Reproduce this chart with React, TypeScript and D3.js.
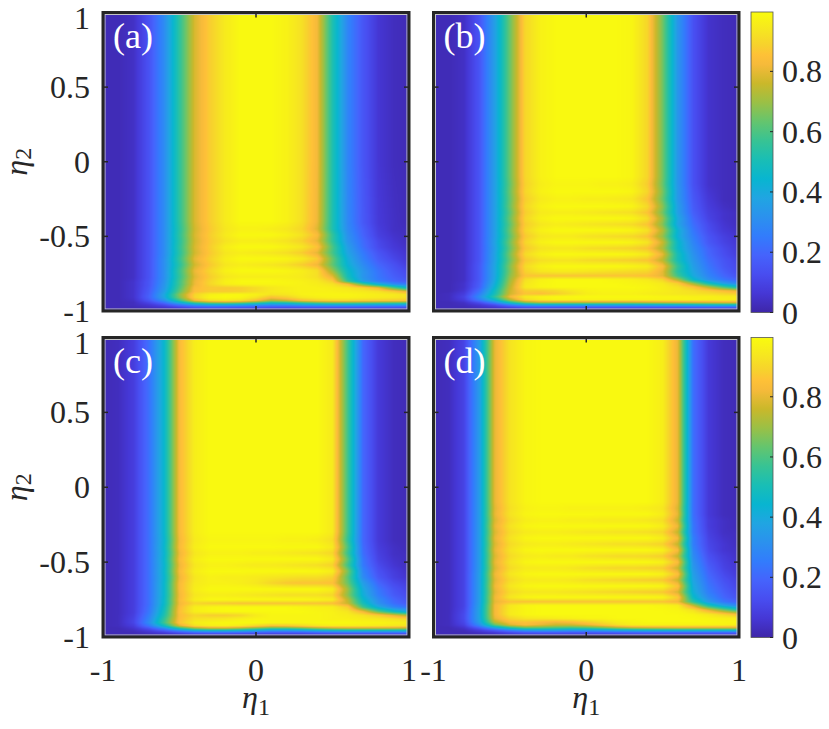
import React, { useMemo } from "react";
import * as d3 from "d3";

// ---------- DATA ----------
// eta1 sample columns (shared by all panels)
const ETA1 = [-1, -0.9, -0.8, -0.7, -0.6, -0.5, -0.4, -0.3, -0.2, -0.1, 0, 0.1, 0.2, 0.3, 0.4, 0.5, 0.6, 0.7, 0.8, 0.9, 1];

// Panel (a): eta2 rows and values (percent)
const A_ETA2 = [1, 0, -0.4, -0.45, -0.49, -0.53, -0.57, -0.61, -0.65, -0.69, -0.73, -0.77, -0.8, -0.82, -0.845, -0.87, -0.89, -0.91, -0.93, -0.945, -0.96, -0.975, -0.99, -1];
const A_VALUES = [
  [2,2,4,14,30,55,78,88,95,99,99,99,97,92,82,52,28,15,6,3,2],
  [2,2,4,14,30,55,78,88,95,99,99,99,97,92,82,52,28,15,6,3,2],
  [2,2,4,14,30,55,78,88,95,99,99,99,97,92,81,52,29,16,7,4,2],
  [2,2,4,14,30,54,77,87,94,97,97,96,94,90,79,52,30,18,8,4,3],
  [2,2,4,14,30,55,78,88,95,99,99,99,97,93,84,56,32,19,9,5,3],
  [2,2,4,14,30,54,77,87,93,96,96,95,93,89,80,56,33,21,11,6,3],
  [2,2,4,14,30,55,78,88,96,99,99,99,97,94,86,60,36,22,12,7,4],
  [2,2,4,14,30,54,77,87,94,96,95,94,92,88,80,59,38,25,15,9,5],
  [2,2,4,14,31,56,80,89,96,99,99,99,98,95,88,64,41,27,17,11,6],
  [2,2,4,14,31,54,77,87,94,96,95,94,92,88,82,63,43,30,20,14,8],
  [2,2,4,14,31,57,81,90,97,99,99,99,98,96,92,70,47,33,23,16,11],
  [2,2,4,14,31,56,79,88,94,96,96,96,96,95,92,80,50,33,24,18,13],
  [2,2,5,15,32,58,81,90,97,99,99,99,98,97,95,88,56,36,26,20,16],
  [2,2,5,15,33,58,81,90,96,98,98,98,98,97,96,93,84,60,42,30,24],
  [2,2,5,16,34,60,84,87,87,88,91,94,96,97,97,96,94,90,82,62,46],
  [2,2,5,17,36,63,85,88,88,89,92,95,96,97,97,97,96,95,93,88,80],
  [2,2,5,18,39,68,90,97,99,99,97,93,94,97,98,98,98,97,96,95,93],
  [2,2,5,18,38,66,90,98,99,98,93,84,88,94,96,97,97,96,95,94,92],
  [2,2,4,15,31,56,82,92,94,92,84,72,76,84,88,90,90,89,88,87,86],
  [2,2,3,10,21,40,58,66,68,65,58,50,52,58,62,64,64,63,62,61,60],
  [2,2,3,6,12,22,32,37,37,35,32,29,30,34,36,37,37,36,35,34,33],
  [2,2,2,4,6,10,15,17,17,16,15,14,14,15,16,16,16,16,15,15,14],
  [2,2,2,2,3,4,5,6,6,5,5,5,5,5,5,5,5,5,5,5,5],
  [2,2,2,2,2,2,2,2,2,2,2,2,2,2,2,2,2,2,2,2,2],
];

// Panel (b)
const B_ETA2 = [1, -0.1, -0.15, -0.2, -0.25, -0.3, -0.34, -0.38, -0.42, -0.46, -0.5, -0.54, -0.58, -0.62, -0.66, -0.7, -0.735, -0.765, -0.79, -0.815, -0.84, -0.865, -0.885, -0.905, -0.925, -0.945, -0.96, -0.975, -0.99, -1];
const B_VALUES = [
  [2,2,4,15,36,64,90,97,99,99,99,99,99,98,90,65,33,14,5,3,2],
  [2,2,4,15,36,64,90,97,99,99,99,99,99,98,90,65,33,14,5,3,2],
  [2,2,4,15,36,63,89,96,98,98,98,97,97,96,88,64,33,14,5,3,2],
  [2,2,4,15,36,64,90,97,99,99,99,99,99,98,90,66,34,15,6,3,2],
  [2,2,4,15,36,63,88,95,97,97,96,96,95,94,86,64,34,16,7,3,2],
  [2,2,4,15,36,64,90,97,99,99,99,99,99,98,91,68,36,17,8,4,2],
  [2,2,4,15,36,62,88,95,96,96,95,94,93,92,86,65,36,18,9,5,3],
  [2,2,4,15,36,64,90,97,99,99,99,99,99,98,92,70,39,20,10,5,3],
  [2,2,4,15,36,62,88,94,96,95,94,93,92,91,86,67,38,22,12,6,3],
  [2,2,4,15,36,64,90,97,99,99,99,99,99,98,93,73,43,24,13,7,4],
  [2,2,4,15,36,62,87,94,95,95,93,92,91,90,86,69,42,26,15,9,5],
  [2,2,4,15,37,65,90,97,99,99,99,99,99,98,94,76,46,28,16,10,6],
  [2,2,4,15,36,63,87,93,94,94,92,91,90,89,86,72,46,30,19,12,7],
  [2,2,4,15,37,66,91,97,99,99,99,99,99,98,95,80,50,32,20,13,8],
  [2,2,4,15,37,64,87,92,93,93,91,90,89,88,86,74,50,34,22,15,10],
  [2,2,4,16,38,67,91,97,99,99,99,99,99,98,96,84,56,36,24,16,11],
  [2,2,4,16,38,66,89,94,95,95,94,93,92,91,90,80,54,38,26,18,12],
  [2,2,4,16,38,68,86,86,86,86,86,86,86,86,85,80,58,40,28,20,14],
  [2,2,4,16,39,70,92,97,99,99,99,99,98,97,95,90,72,46,32,24,18],
  [2,2,5,17,41,72,94,98,99,99,99,99,99,98,97,95,88,70,50,36,28],
  [2,2,5,18,44,74,95,98,99,99,99,99,99,99,98,96,93,86,74,60,48],
  [2,2,6,22,48,76,88,88,90,94,97,98,98,98,97,96,94,92,88,84,80],
  [2,3,8,26,50,77,86,85,88,92,96,97,97,97,96,95,94,93,92,90,88],
  [2,3,10,30,55,82,95,98,99,99,99,99,99,99,99,98,98,97,97,96,96],
  [2,3,8,25,45,72,90,95,97,97,97,97,97,97,97,97,97,97,96,96,95],
  [2,2,4,12,26,48,64,70,70,70,70,70,70,70,71,72,73,74,75,76,76],
  [2,2,3,6,12,24,34,38,38,38,38,38,38,38,39,40,41,42,44,45,45],
  [2,2,2,4,6,10,14,15,15,15,15,15,15,15,15,16,16,17,18,18,18],
  [2,2,2,2,3,4,5,5,5,5,5,5,5,5,5,5,5,5,5,5,5],
  [2,2,2,2,2,2,2,2,2,2,2,2,2,2,2,2,2,2,2,2,2],
];

// Panel (c)
const C_ETA2 = [1, -0.3, -0.35, -0.4, -0.44, -0.48, -0.52, -0.56, -0.6, -0.64, -0.68, -0.72, -0.75, -0.775, -0.8, -0.83, -0.855, -0.88, -0.905, -0.925, -0.945, -0.96, -0.975, -0.99, -1];
const C_VALUES = [
  [2,3,8,22,45,83,96,99,99,99,99,99,99,99,99,95,58,20,7,3,2],
  [2,3,8,22,45,83,96,99,99,99,99,99,99,99,99,95,58,20,7,3,2],
  [2,3,8,22,44,82,95,98,98,98,98,98,97,97,96,92,56,20,7,3,2],
  [2,3,8,22,45,83,96,99,99,99,99,99,99,99,99,95,60,21,8,4,2],
  [2,3,8,22,44,81,94,97,97,97,96,96,95,94,93,90,57,22,9,4,3],
  [2,3,8,22,45,83,96,99,99,99,99,99,99,99,99,95,62,24,10,5,3],
  [2,3,8,22,44,81,94,97,97,96,95,95,94,93,92,89,58,25,12,6,3],
  [2,3,8,22,45,83,96,99,99,99,99,99,99,99,99,96,66,28,14,8,4],
  [2,3,8,22,44,81,94,97,96,96,95,94,93,92,92,89,62,30,16,9,5],
  [2,3,8,22,45,83,95,97,97,96,94,90,87,86,86,85,64,36,20,12,8],
  [2,3,8,22,45,83,96,99,99,99,99,99,99,99,99,96,70,40,24,15,10],
  [2,3,8,22,45,82,94,96,96,95,94,93,92,92,92,90,68,42,26,17,12],
  [2,3,8,22,46,83,96,99,99,99,99,99,99,99,98,96,74,46,30,20,14],
  [2,3,8,22,46,82,90,88,87,86,86,86,86,86,86,85,76,50,32,22,16],
  [2,3,8,23,48,84,96,98,99,99,99,99,99,98,97,96,88,58,40,28,22],
  [2,3,8,24,50,85,96,98,99,99,99,99,99,99,98,97,94,82,62,48,38],
  [2,3,9,26,52,84,90,88,88,90,95,98,98,98,98,97,96,93,88,80,72],
  [2,3,10,28,56,85,93,94,95,97,98,98,98,98,98,97,97,96,95,93,90],
  [2,3,10,30,58,86,96,98,99,99,99,98,98,98,99,99,99,98,98,97,96],
  [2,3,8,24,48,78,92,96,97,95,90,85,86,90,94,96,96,96,95,94,93],
  [2,2,5,13,27,48,64,70,70,66,60,54,54,58,64,68,70,70,70,70,68],
  [2,2,3,7,14,25,34,38,38,36,32,28,28,30,34,38,40,40,40,40,40],
  [2,2,2,4,6,10,14,15,15,14,13,12,12,12,14,15,16,16,16,16,16],
  [2,2,2,2,3,4,5,5,5,5,5,5,5,5,5,5,5,5,5,5,5],
  [2,2,2,2,2,2,2,2,2,2,2,2,2,2,2,2,2,2,2,2,2],
];

// Panel (d)
const D_ETA2 = [1, -0.1, -0.14, -0.18, -0.22, -0.26, -0.3, -0.34, -0.38, -0.42, -0.46, -0.5, -0.54, -0.58, -0.62, -0.66, -0.7, -0.735, -0.765, -0.79, -0.82, -0.85, -0.875, -0.9, -0.92, -0.94, -0.955, -0.97, -0.985, -1];
const D_VALUES = [
  [2,3,10,35,80,93,98,99,99,99,99,99,99,99,99,96,80,22,7,3,2],
  [2,3,10,35,80,93,98,99,99,99,99,99,99,99,99,96,80,22,7,3,2],
  [2,3,10,35,79,92,97,98,98,97,97,97,97,97,96,94,78,22,7,3,2],
  [2,3,10,35,80,93,98,99,99,99,99,99,99,99,99,96,80,22,7,3,2],
  [2,3,10,35,78,91,96,97,97,96,96,95,95,95,94,92,76,23,8,4,2],
  [2,3,10,35,80,93,98,99,99,99,99,99,99,99,99,96,81,24,8,4,2],
  [2,3,10,35,78,91,95,96,96,95,94,94,93,93,92,90,75,24,9,4,3],
  [2,3,10,35,80,93,98,99,99,99,99,99,99,99,99,96,82,26,10,5,3],
  [2,3,10,35,78,91,95,96,96,95,94,93,92,92,91,89,75,26,11,6,3],
  [2,3,10,35,80,93,98,99,99,99,99,99,99,99,99,97,83,28,12,6,4],
  [2,3,10,35,78,91,95,96,95,95,93,92,91,91,90,88,75,30,14,8,4],
  [2,3,10,35,80,93,98,99,99,99,99,99,99,99,99,97,84,32,16,9,5],
  [2,3,10,35,78,91,95,95,95,94,92,91,90,90,89,88,76,34,18,10,6],
  [2,3,10,36,81,94,98,99,99,99,99,99,99,99,99,97,85,36,20,12,7],
  [2,3,10,36,79,91,95,95,95,94,92,91,90,89,88,87,76,38,22,14,9],
  [2,3,10,36,81,94,98,99,99,99,99,99,99,99,99,98,86,40,24,16,10],
  [2,3,10,36,79,91,94,94,94,93,92,91,90,89,88,87,78,42,26,18,12],
  [2,3,10,36,81,94,98,99,99,99,99,99,99,99,99,98,88,46,30,20,14],
  [2,3,10,36,80,86,86,86,86,86,86,86,86,86,86,86,82,55,35,24,18],
  [2,3,10,37,82,94,98,99,99,99,99,99,99,99,99,98,96,76,52,38,28],
  [2,3,11,38,82,95,98,99,99,99,99,99,99,99,99,99,98,93,80,66,54],
  [2,3,12,38,82,95,98,99,99,99,99,99,99,99,99,99,99,98,95,90,84],
  [2,3,12,38,80,90,94,95,96,97,98,98,99,99,99,99,99,99,98,97,96],
  [2,3,11,36,74,84,86,84,82,84,88,92,96,98,99,99,99,99,99,98,98],
  [2,3,9,30,62,78,84,80,76,76,80,86,92,96,97,97,97,97,97,97,96],
  [2,2,5,16,34,50,60,60,58,56,58,62,68,72,74,75,76,76,76,76,76],
  [2,2,3,8,16,26,34,36,36,34,34,36,40,42,44,45,46,46,46,46,46],
  [2,2,2,4,7,12,16,17,17,16,16,17,18,19,20,20,20,20,20,20,20],
  [2,2,2,2,3,5,6,6,6,6,6,6,6,7,7,7,7,7,7,7,7],
  [2,2,2,2,2,2,2,2,2,2,2,2,2,2,2,2,2,2,2,2,2],
];

const Y_TICKS = [1, 0.5, 0, -0.5, -1];
const X_TICKS = [-1, 0, 1];
const CB_TICKS = [0, 0.2, 0.4, 0.6, 0.8];
const C_RANGE = [0, 0.997];
const PANEL_LABELS = ["(a)", "(b)", "(c)", "(d)"];

// ---------- STYLE ----------
const PARULA: [number, string][] = [
  [0.0, "#3e26a8"], [0.063, "#4537d5"], [0.127, "#484df0"], [0.19, "#4563fc"],
  [0.254, "#327cfc"], [0.317, "#2b91ee"], [0.381, "#20a5e2"], [0.444, "#08b5d0"],
  [0.508, "#19beb5"], [0.571, "#37c394"], [0.635, "#64c56e"], [0.698, "#9ac046"],
  [0.762, "#cab82a"], [0.825, "#f6ba3a"], [0.857, "#fec137"], [0.889, "#f7d12d"],
  [0.937, "#f6e521"], [1.0, "#f9fb0e"],
];
const FONT = "'Liberation Serif', 'Times New Roman', Times, serif";
const INK = "#262626";

const colormap = d3.scaleLinear<string>()
  .domain(PARULA.map((d) => d[0]))
  .range(PARULA.map((d) => d[1]))
  .interpolate(d3.interpolateRgb)
  .clamp(true);
const valueScale = d3.scaleLinear().domain(C_RANGE).range([0, 1]).clamp(true);

function buildImage(eta2: number[], values: number[][], w: number, h: number): string {
  if (typeof document === "undefined") return "";
  const cw = Math.round(w * 2), ch = Math.round(h * 2);
  const canvas = document.createElement("canvas");
  canvas.width = cw; canvas.height = ch;
  const ctx = canvas.getContext("2d");
  if (!ctx) return "";
  const img = ctx.createImageData(cw, ch);
  const xs = d3.scaleLinear().domain([-1, 1]).range([0, cw]);
  const ys = d3.scaleLinear().domain([-1, 1]).range([ch, 0]);
  const rowsY = eta2.slice().reverse();
  const rowsV = values.slice().reverse();
  const N = 1024;
  const lut = d3.range(N).map((i) => d3.rgb(colormap(i / (N - 1))));
  for (let py = 0; py < ch; py++) {
    const e2 = ys.invert(py + 0.5);
    let i = d3.bisectRight(rowsY, e2) - 1;
    i = Math.max(0, Math.min(rowsY.length - 2, i));
    const ty = Math.max(0, Math.min(1, (e2 - rowsY[i]) / (rowsY[i + 1] - rowsY[i])));
    const r0 = rowsV[i], r1 = rowsV[i + 1];
    for (let px = 0; px < cw; px++) {
      const e1 = xs.invert(px + 0.5);
      let j = d3.bisectRight(ETA1, e1) - 1;
      j = Math.max(0, Math.min(ETA1.length - 2, j));
      const tx = Math.max(0, Math.min(1, (e1 - ETA1[j]) / (ETA1[j + 1] - ETA1[j])));
      const v0 = r0[j] + (r0[j + 1] - r0[j]) * tx;
      const v1 = r1[j] + (r1[j + 1] - r1[j]) * tx;
      const v = (v0 + (v1 - v0) * ty) / 100;
      const c = lut[Math.round(valueScale(v) * (N - 1))];
      const k = (py * cw + px) * 4;
      img.data[k] = c.r; img.data[k + 1] = c.g; img.data[k + 2] = c.b; img.data[k + 3] = 255;
    }
  }
  ctx.putImageData(img, 0, 0);
  return canvas.toDataURL();
}

const PANELS = [
  { x: 103, y: 12.5, w: 306, h: 298.5, eta2: A_ETA2, values: A_VALUES, showY: true, showX: false },
  { x: 433.5, y: 12.5, w: 305.5, h: 298.5, eta2: B_ETA2, values: B_VALUES, showY: false, showX: false },
  { x: 103, y: 337.5, w: 306, h: 299.5, eta2: C_ETA2, values: C_VALUES, showY: true, showX: true },
  { x: 433.5, y: 337.5, w: 305.5, h: 299.5, eta2: D_ETA2, values: D_VALUES, showY: false, showX: true },
];
const COLORBARS = [
  { x: 751, y: 12, w: 22, h: 300.5 },
  { x: 751, y: 337.5, w: 22, h: 300 },
];

function Panel({ p, label }: { p: typeof PANELS[number]; label: string }) {
  const href = useMemo(() => buildImage(p.eta2, p.values, p.w, p.h), [p]);
  const x = d3.scaleLinear().domain([-1, 1]).range([p.x, p.x + p.w]);
  const y = d3.scaleLinear().domain([-1, 1]).range([p.y + p.h, p.y]);
  const tl = 5;
  return (
    <g>
      <image href={href} x={p.x} y={p.y} width={p.w} height={p.h} preserveAspectRatio="none" />
      <rect x={p.x + 2} y={p.y + 2} width={p.w - 4} height={p.h - 4} fill="none" stroke="#c4c4c4" strokeWidth={1} />
      <rect x={p.x} y={p.y} width={p.w} height={p.h} fill="none" stroke={INK} strokeWidth={3} />
      {X_TICKS.map((t) => (
        <g key={"xt" + t}>
          <line x1={x(t)} x2={x(t)} y1={p.y + p.h} y2={p.y + p.h - tl} stroke={INK} strokeWidth={1.5} />
          <line x1={x(t)} x2={x(t)} y1={p.y} y2={p.y + tl} stroke={INK} strokeWidth={1.5} />
        </g>
      ))}
      {Y_TICKS.map((t) => (
        <g key={"yt" + t}>
          <line x1={p.x} x2={p.x + tl} y1={y(t)} y2={y(t)} stroke={INK} strokeWidth={1.5} />
          <line x1={p.x + p.w} x2={p.x + p.w - tl} y1={y(t)} y2={y(t)} stroke={INK} strokeWidth={1.5} />
        </g>
      ))}
      {p.showY && Y_TICKS.map((t) => (
        <text key={"yl" + t} x={90} y={y(t) + 11 + (t === 1 ? 5 : 0)} textAnchor="end" fontSize={32} fontFamily={FONT} fill={INK}>
          {String(t)}
        </text>
      ))}
      {p.showX && X_TICKS.map((t) => (
        <text key={"xl" + t} x={x(t)} y={681} textAnchor="middle" fontSize={32} fontFamily={FONT} fill={INK}>
          {String(t)}
        </text>
      ))}
      {p.showY && (
        <text transform={`translate(27, ${p.y + p.h / 2}) rotate(-90)`} textAnchor="middle" fontSize={32} fontFamily={FONT} fill={INK}>
          <tspan fontStyle="italic">η</tspan>
          <tspan fontSize={24} dy={4}>2</tspan>
        </text>
      )}
      {p.showX && (
        <text x={p.x + p.w / 2} y={708} textAnchor="middle" fontSize={32} fontFamily={FONT} fill={INK}>
          <tspan fontStyle="italic">η</tspan>
          <tspan fontSize={24} dy={7}>1</tspan>
        </text>
      )}
      <text x={p.x + 10} y={p.y + 35.5} fontSize={36} fontFamily={FONT} fill="#ffffff">{label}</text>
    </g>
  );
}

function Colorbar({ cb }: { cb: typeof COLORBARS[number] }) {
  const y = d3.scaleLinear().domain(C_RANGE).range([cb.y + cb.h, cb.y]);
  return (
    <g>
      <rect x={cb.x} y={cb.y} width={cb.w} height={cb.h} fill="url(#parulaGrad)" stroke="#555" strokeWidth={0.8} />
      {CB_TICKS.map((t) => (
        <g key={t}>
          <line x1={cb.x + cb.w} x2={cb.x + cb.w - 3} y1={y(t)} y2={y(t)} stroke={INK} strokeWidth={1} />
          <text x={cb.x + 31} y={y(t) + 11} fontSize={32} fontFamily={FONT} fill={INK}>{String(t)}</text>
        </g>
      ))}
    </g>
  );
}

export default function App() {
  return (
    <div style={{ position: "absolute", left: 0, top: 0 }}>
      <svg width={829} height={729} viewBox="0 0 829 729" style={{ display: "block", background: "#fff" }}>
        <defs>
          <linearGradient id="parulaGrad" x1="0" y1="1" x2="0" y2="0">
            {PARULA.map(([o, c]) => (
              <stop key={o} offset={o} stopColor={c} />
            ))}
          </linearGradient>
        </defs>
        <rect width={829} height={729} fill="#fff" />
        {PANELS.map((p, i) => (
          <Panel key={i} p={p} label={PANEL_LABELS[i]} />
        ))}
        {COLORBARS.map((cb, i) => (
          <Colorbar key={i} cb={cb} />
        ))}
      </svg>
    </div>
  );
}
